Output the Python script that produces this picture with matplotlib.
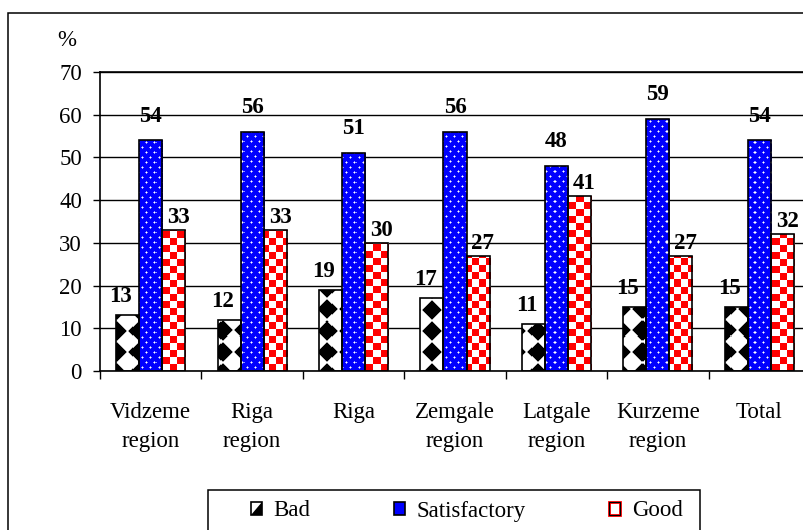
import numpy as np
import matplotlib.pyplot as plt
from matplotlib.patches import Rectangle, Patch, Polygon
from matplotlib.legend_handler import HandlerPatch

plt.rcParams['font.family'] = 'Liberation Serif'
plt.rcParams['font.size'] = 16.5

regions = ['Vidzeme\nregion', 'Riga\nregion', 'Riga', 'Zemgale\nregion',
           'Latgale\nregion', 'Kurzeme\nregion', 'Total']
bad = [13, 12, 19, 17, 11, 15, 15]
satisfactory = [54, 56, 51, 56, 48, 59, 54]
good = [33, 33, 30, 27, 41, 27, 32]
yticks = [0, 10, 20, 30, 40, 50, 60, 70]

W, H = 804, 530
fig = plt.figure(figsize=(W / 100, H / 100), dpi=100)
ax = fig.add_axes([100 / W, (H - 371) / H, 710 / W, 299 / H])

# fill patterns on the axes pixel grid, clipped to each bar later
pw, ph = 710, 299
C, R = np.meshgrid(np.arange(pw), np.arange(ph))

# black diamonds on white
dx = (C + 0.5 - 17 + 10.5) % 21 - 10.5
dy = (R + 0.5 - 19 + 10.5) % 21 - 10.5
k = np.clip(np.abs(dx) + np.abs(dy) - 9.3, 0, 1)
bad_img = np.dstack([k, k, k])

# white dots on blue
sat_img = np.zeros((ph, pw, 3))
sat_img[..., 2] = 1
dots = ((C % 8 == 2) & (R % 10 == 3)) | ((C % 8 == 6) & (R % 10 == 8))
halo = np.zeros_like(dots)
for sh, axn in [(1, 0), (-1, 0), (1, 1), (-1, 1)]:
    halo |= np.roll(dots, sh, axis=axn)
sat_img[halo & ~dots] = [0.55, 0.55, 1]
sat_img[dots] = [1, 1, 1]

# red / white checkerboard
good_img = np.ones((ph, pw, 3))
good_img[((C // 7 + R // 7) % 2) == 0] = [1, 0, 0]

x = np.arange(len(regions))
w = 0.227
series = [(bad, -w, bad_img, (-5, 9.5)),
          (satisfactory, 0, sat_img, (0, 13.5)),
          (good, w, good_img, (3.5, 5))]

for vals, off, img, (tx, ty) in series:
    bars = ax.bar(x + off, vals, w, facecolor='none', edgecolor='black',
                  linewidth=1.2, zorder=3)
    for b in bars:
        im = ax.imshow(img, extent=(-0.5, 6.5, 0, 70), origin='lower',
                       interpolation='nearest', aspect='auto', zorder=2)
        im.set_clip_path(b)
    for xi, v in zip(x + off, vals):
        ax.annotate(str(v), (xi, v), xytext=(tx, ty), textcoords='offset points',
                    ha='center', va='baseline', fontweight='bold', zorder=4)

ax.set_xlim(-0.5, 6.5)
ax.set_ylim(0, 70)
ax.set_yticks(yticks)
ax.yaxis.grid(True, color='black', linewidth=1)
ax.set_axisbelow(True)
ax.spines['right'].set_visible(False)
for s in ['left', 'bottom', 'top']:
    ax.spines[s].set_linewidth(1.2)
ax.tick_params(axis='y', length=5, width=1, pad=8)

ax.set_xticks(x, regions)
ax.set_xticks(np.arange(-0.5, 7, 1), minor=True)
ax.tick_params(axis='x', which='major', length=0, pad=22)
ax.tick_params(axis='x', which='minor', length=5.8, width=1)
for lbl in ax.get_xticklabels():
    lbl.set_linespacing(1.55)

fig.text(67 / W, (H - 41) / H, '%', ha='center', va='center')

# legend handles
def tri(legend, orig_handle, xdescent, ydescent, width, height, fontsize):
    x0, y0 = -xdescent, -ydescent
    return Polygon([(x0 + width, y0 + height), (x0 + width, y0), (x0, y0)],
                   closed=True)

bad_sq = Patch(facecolor='white', edgecolor='black', linewidth=1.2)
bad_tri = Patch(facecolor='black', edgecolor='none')
sat_sq = Patch(facecolor='blue', edgecolor='black', linewidth=1.2)
good_sq = Patch(facecolor='white', edgecolor='red', linewidth=2)
good_edge = Patch(facecolor='none', edgecolor='black', linewidth=0.8)

fig.legend([(bad_sq, bad_tri), sat_sq, (good_sq, good_edge)],
           ['Bad', 'Satisfactory', 'Good'],
           handler_map={bad_tri: HandlerPatch(patch_func=tri)},
           loc='center left', bbox_to_anchor=(251 / W, (H - 511) / H),
           ncol=3, frameon=False, borderpad=0, borderaxespad=0,
           handlelength=0.48, handleheight=0.48, handletextpad=0.5,
           columnspacing=3.65)

fig.add_artist(Rectangle((208 / W, -0.05), (700 - 208) / W, (H - 490) / H + 0.05,
                         transform=fig.transFigure, fill=False,
                         edgecolor='black', linewidth=1.1))
fig.add_artist(Rectangle((8 / W, -0.05), 1.0, (H - 13) / H + 0.05,
                         transform=fig.transFigure, fill=False,
                         edgecolor='black', linewidth=1.1))

fig.savefig('out.png', dpi=100)
